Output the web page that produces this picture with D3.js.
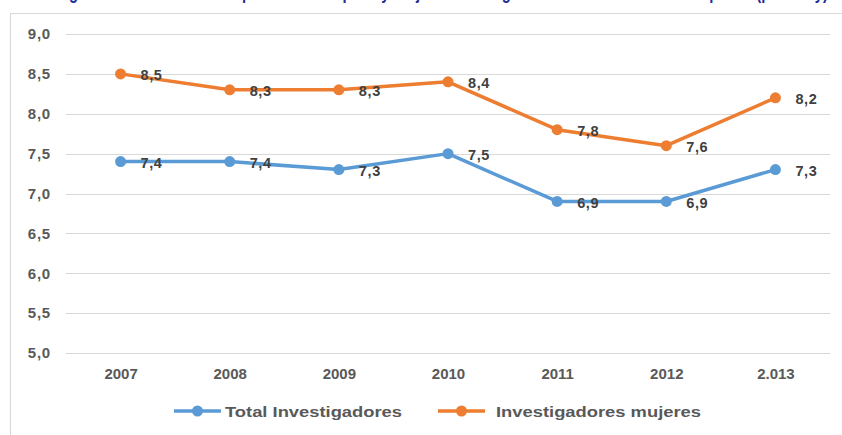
<!DOCTYPE html>
<html>
<head>
<meta charset="utf-8">
<script src="https://cdn.jsdelivr.net/npm/d3@7"></script>
<style>
  html, body { margin: 0; padding: 0; background: #fff; }
  svg { display: block; }
</style>
</head>
<body>
<svg id="chart" width="842" height="435"></svg>
<script>
// Years on the category axis
const years = ["2007", "2008", "2009", "2010", "2011", "2012", "2.013"];
// Researchers per thousand employed
const totalInvestigadores = [7.4, 7.4, 7.3, 7.5, 6.9, 6.9, 7.3];
const investigadorasMujeres = [8.5, 8.3, 8.3, 8.4, 7.8, 7.6, 8.2];
// Value axis ticks
const yTicks = [5.0, 5.5, 6.0, 6.5, 7.0, 7.5, 8.0, 8.5, 9.0];
const seriesNames = ["Total Investigadores", "Investigadores mujeres"];
const seriesColors = ["#5B9BD5", "#ED7D31"];
const titleText = "Investigadores en relación a la población ocupada y mujeres investigadoras en relación a las ocupadas (por mil y)";

const series = [
  { name: seriesNames[0], color: seriesColors[0], values: totalInvestigadores },
  { name: seriesNames[1], color: seriesColors[1], values: investigadorasMujeres }
];

const svg = d3.select("#chart");
const esLocale = d3.formatLocale({ decimal: ",", thousands: ".", grouping: [3], currency: ["", "€"] });
const fmt = esLocale.format(".1f");
const fontFamily = "'Liberation Sans', Arial, sans-serif";

// Title, mostly above the top edge of the page
svg.append("text")
  .attr("x", 22).attr("y", -1)
  .attr("textLength", 806).attr("lengthAdjust", "spacingAndGlyphs")
  .attr("font-family", fontFamily).attr("font-weight", "bold").attr("font-size", 20)
  .attr("fill", "#1F2F9A")
  .text(titleText);

// Chart frame
svg.append("path")
  .attr("d", "M10.5,440 V13.5 H850")
  .attr("fill", "none").attr("stroke", "#D9D9D9").attr("stroke-width", 1.2);

const x = d3.scalePoint().domain(years).range([66, 830]).padding(0.5);
const y = d3.scaleLinear().domain([5, 9]).range([353, 34]);

// Horizontal gridlines
svg.append("g").selectAll("line").data(yTicks).join("line")
  .attr("x1", 66).attr("x2", 830)
  .attr("y1", d => Math.round(y(d)) + 0.5).attr("y2", d => Math.round(y(d)) + 0.5)
  .attr("stroke", "#D9D9D9").attr("stroke-width", 1);

// Value axis labels
const yAxis = d3.axisLeft(y).tickValues(yTicks).tickFormat(fmt).tickSize(0).tickPadding(0);
const gy = svg.append("g").attr("transform", "translate(51,0)").call(yAxis);
gy.select(".domain").remove();
gy.selectAll("text")
  .attr("font-family", fontFamily).attr("font-weight", "bold").attr("font-size", 15)
  .attr("letter-spacing", 0.8).attr("fill", "#595959");

// Category axis labels
const xAxis = d3.axisBottom(x).tickSize(0).tickPadding(0);
const gx = svg.append("g").attr("transform", "translate(0,368)").call(xAxis);
gx.select(".domain").remove();
gx.selectAll("text")
  .attr("font-family", fontFamily).attr("font-weight", "bold").attr("font-size", 15)
  .attr("fill", "#595959");

const line = d3.line().x((d, i) => x(years[i])).y(d => y(d));

const gs = svg.append("g").selectAll("g").data(series).join("g");
gs.append("path")
  .attr("d", d => line(d.values))
  .attr("fill", "none").attr("stroke", d => d.color)
  .attr("stroke-width", 3.5).attr("stroke-linejoin", "round");
gs.selectAll("circle").data(d => d.values.map((v, i) => ({ v, i, color: d.color }))).join("circle")
  .attr("cx", d => x(years[d.i])).attr("cy", d => y(d.v)).attr("r", 5.5)
  .attr("fill", d => d.color);
gs.selectAll("text.val").data(d => d.values.map((v, i) => ({ v, i }))).join("text")
  .attr("class", "val")
  .attr("x", d => x(years[d.i]) + 20).attr("y", d => y(d.v) + 1)
  .attr("dy", "0.36em")
  .attr("font-family", fontFamily).attr("font-weight", "bold").attr("font-size", 14.5)
  .attr("letter-spacing", 0.6).attr("fill", "#404040")
  .text(d => fmt(d.v));

// Legend
const legendItems = [
  { x: 174, w: 177 },
  { x: 438, w: 205 }
];
const lg = svg.append("g").selectAll("g").data(series).join("g")
  .attr("transform", (d, i) => `translate(${legendItems[i].x},411)`);
lg.append("line").attr("x1", 0).attr("x2", 47).attr("y1", 0).attr("y2", 0)
  .attr("stroke", d => d.color).attr("stroke-width", 3.5);
lg.append("circle").attr("cx", 23.5).attr("cy", 0).attr("r", 5.5).attr("fill", d => d.color);
lg.append("text")
  .attr("x", (d, i) => i === 0 ? 51 : 58).attr("y", 0).attr("dy", "0.36em")
  .attr("textLength", (d, i) => legendItems[i].w).attr("lengthAdjust", "spacingAndGlyphs")
  .attr("font-family", fontFamily).attr("font-weight", "bold").attr("font-size", 15.5)
  .attr("fill", "#595959")
  .text(d => d.name);
</script>
</body>
</html>
